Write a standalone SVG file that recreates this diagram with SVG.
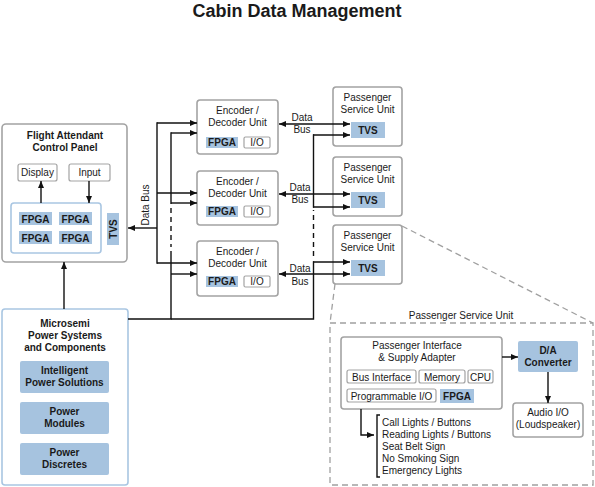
<svg xmlns="http://www.w3.org/2000/svg" width="595" height="487" viewBox="0 0 595 487">
<style>
text{font-family:"Liberation Sans",Arial,sans-serif;font-size:10px;fill:#1a1a1a}
.b{font-weight:bold}
.t{font-size:18px;font-weight:bold}
.m{text-anchor:middle}
.box{fill:#fff;stroke:#a3a3a3;stroke-width:1.6}
.bbox{fill:#fff;stroke:#a9c6e2;stroke-width:1.6}
.sm{fill:#fff;stroke:#a3a3a3;stroke-width:1.2}
.blue{fill:#a6c3df}
.ln{fill:none;stroke:#111;stroke-width:1.4}
.dl{fill:none;stroke:#111;stroke-width:1.4;stroke-dasharray:5,4}
.gd{fill:none;stroke:#a0a0a0;stroke-width:1.3;stroke-dasharray:6,4}
</style>
<defs>
<marker id="ah" viewBox="0 0 7 6" refX="7" refY="3" markerWidth="7" markerHeight="6" markerUnits="userSpaceOnUse" orient="auto-start-reverse">
<path d="M0,0 L7,3 L0,6 z" fill="#111"/>
</marker>
</defs>

<text class="t m" x="297" y="17">Cabin Data Management</text>

<g id="fac">
<rect class="box" x="2" y="124" width="125" height="138" rx="4"/>
<text class="b m" x="65" y="139">Flight Attendant</text>
<text class="b m" x="65" y="151">Control Panel</text>
<rect class="sm" x="18" y="164" width="39" height="17" rx="2"/>
<text class="m" x="37.5" y="176">Display</text>
<rect class="sm" x="69" y="164" width="41" height="17" rx="2"/>
<text class="m" x="89.5" y="176">Input</text>
<rect class="bbox" x="11" y="203" width="90" height="50" rx="3" stroke-width="1.3"/>
<rect class="blue" x="19" y="212" width="33" height="13"/>
<text class="b m" x="35.5" y="222.5">FPGA</text>
<rect class="blue" x="59" y="212" width="33" height="13"/>
<text class="b m" x="75.5" y="222.5">FPGA</text>
<rect class="blue" x="19" y="231" width="33" height="13"/>
<text class="b m" x="35.5" y="241.5">FPGA</text>
<rect class="blue" x="59" y="231" width="33" height="13"/>
<text class="b m" x="75.5" y="241.5">FPGA</text>
<rect class="blue" x="107" y="213" width="12" height="32"/>
<text class="b m" transform="translate(116.8,229) rotate(-90)">TVS</text>
</g>

<g id="enc1" transform="translate(197,100)">
<rect class="box" x="0" y="0" width="81" height="54" rx="3"/>
<text class="m" x="40.5" y="14">Encoder /</text>
<text class="m" x="40.5" y="26">Decoder Unit</text>
<rect class="blue" x="9" y="37" width="32" height="11"/>
<text class="b m" x="25" y="46">FPGA</text>
<rect class="sm" x="47" y="37" width="26" height="11" rx="1.5"/>
<text class="m" x="60" y="46">I/O</text>
</g>
<g id="enc2" transform="translate(197,171)">
<rect class="box" x="0" y="0" width="81" height="54" rx="3"/>
<text class="m" x="40.5" y="14">Encoder /</text>
<text class="m" x="40.5" y="26">Decoder Unit</text>
<rect class="blue" x="9" y="35" width="32" height="11"/>
<text class="b m" x="25" y="44">FPGA</text>
<rect class="sm" x="47" y="35" width="26" height="11" rx="1.5"/>
<text class="m" x="60" y="44">I/O</text>
</g>
<g id="enc3" transform="translate(197,241)">
<rect class="box" x="0" y="0" width="81" height="55" rx="3"/>
<text class="m" x="40.5" y="14">Encoder /</text>
<text class="m" x="40.5" y="26">Decoder Unit</text>
<rect class="blue" x="9" y="35" width="32" height="11"/>
<text class="b m" x="25" y="44">FPGA</text>
<rect class="sm" x="47" y="35" width="26" height="11" rx="1.5"/>
<text class="m" x="60" y="44">I/O</text>
</g>

<g id="psu1" transform="translate(333,87)">
<rect class="box" x="0" y="0" width="69" height="59" rx="3"/>
<text class="m" x="34.5" y="14">Passenger</text>
<text class="m" x="34.5" y="26">Service Unit</text>
<rect class="blue" x="18" y="35" width="34" height="16"/>
<text class="b m" x="35" y="47">TVS</text>
</g>
<g id="psu2" transform="translate(333,157)">
<rect class="box" x="0" y="0" width="69" height="59" rx="3"/>
<text class="m" x="34.5" y="14">Passenger</text>
<text class="m" x="34.5" y="26">Service Unit</text>
<rect class="blue" x="18" y="35" width="34" height="16"/>
<text class="b m" x="35" y="47">TVS</text>
</g>
<g id="psu3" transform="translate(333,225)">
<rect class="box" x="0" y="0" width="69" height="59" rx="3"/>
<text class="m" x="34.5" y="14">Passenger</text>
<text class="m" x="34.5" y="26">Service Unit</text>
<rect class="blue" x="18" y="35" width="34" height="16"/>
<text class="b m" x="35" y="47">TVS</text>
</g>

<g id="power">
<rect class="bbox" x="2" y="309" width="126" height="176" rx="3"/>
<text class="b m" x="65" y="327">Microsemi</text>
<text class="b m" x="65" y="339">Power Systems</text>
<text class="b m" x="65" y="351">and Components</text>
<rect class="blue" x="20" y="361" width="89" height="32" rx="2"/>
<text class="b m" x="64.5" y="374">Intelligent</text>
<text class="b m" x="64.5" y="386">Power Solutions</text>
<rect class="blue" x="20" y="402" width="89" height="32" rx="2"/>
<text class="b m" x="64.5" y="415">Power</text>
<text class="b m" x="64.5" y="427">Modules</text>
<rect class="blue" x="20" y="443" width="89" height="32" rx="2"/>
<text class="b m" x="64.5" y="456">Power</text>
<text class="b m" x="64.5" y="468">Discretes</text>
</g>

<g id="psu-detail">
<path class="gd" d="M402,226 L593,323 M335,284 L330,323"/>
<rect class="gd" x="330" y="323" width="263" height="162"/>
<text class="m" x="461" y="319">Passenger Service Unit</text>
</g>

<g id="adapter">
<rect class="box" x="341" y="337" width="161" height="72" rx="3" stroke-width="1.3"/>
<text class="m" x="417" y="349">Passenger Interface</text>
<text class="m" x="417" y="361">&amp; Supply Adapter</text>
<rect class="sm" x="347" y="370" width="69" height="13" rx="2"/>
<text class="m" x="381.5" y="380.5">Bus Interface</text>
<rect class="sm" x="419" y="370" width="46" height="13" rx="2"/>
<text class="m" x="442" y="380.5">Memory</text>
<rect class="sm" x="468" y="370" width="25" height="13" rx="2"/>
<text class="m" x="480.5" y="380.5">CPU</text>
<rect class="sm" x="347" y="389" width="89" height="13" rx="2"/>
<text class="m" x="391.5" y="399.5">Programmable I/O</text>
<rect class="blue" x="440" y="389" width="34" height="14"/>
<text class="b m" x="457" y="400">FPGA</text>
</g>

<g id="dac">
<rect class="blue" x="518" y="341" width="60" height="31" rx="2"/>
<text class="b m" x="548" y="354">D/A</text>
<text class="b m" x="548" y="366">Converter</text>
</g>

<g id="audio">
<rect class="box" x="513" y="403" width="70" height="34" rx="3" stroke-width="1.3"/>
<text class="m" x="548" y="416">Audio I/O</text>
<text class="m" x="548" y="428">(Loudspeaker)</text>
</g>

<g id="outputs">
<path class="ln" d="M380,415 H377 V477 H380"/>
<text x="382" y="426">Call Lights / Buttons</text>
<text x="382" y="438">Reading Lights / Buttons</text>
<text x="382" y="450">Seat Belt Sign</text>
<text x="382" y="462">No Smoking Sign</text>
<text x="382" y="474">Emergency Lights</text>
</g>

<g id="connectors">
<line class="ln" x1="41" y1="203" x2="41" y2="181" marker-end="url(#ah)"/>
<line class="ln" x1="89" y1="181" x2="89" y2="203" marker-end="url(#ah)"/>
<line class="ln" x1="64" y1="309" x2="64" y2="262" marker-end="url(#ah)"/>
<line class="ln" x1="157" y1="228" x2="128" y2="228" marker-end="url(#ah)"/>
<text class="m" transform="translate(149,205) rotate(-90)">Data Bus</text>
<line class="ln" x1="157" y1="122.3" x2="157" y2="263.7"/>
<line class="ln" x1="157" y1="123" x2="197" y2="123" marker-end="url(#ah)"/>
<line class="ln" x1="157" y1="193" x2="197" y2="193" marker-end="url(#ah)"/>
<line class="ln" x1="157" y1="263" x2="197" y2="263" marker-end="url(#ah)"/>
<path class="ln" d="M171,132.3 V204"/>
<path class="dl" d="M171,208 V247"/>
<path class="ln" d="M128,319 H171 V251"/>
<line class="ln" x1="171" y1="133" x2="197" y2="133" marker-end="url(#ah)"/>
<line class="ln" x1="171" y1="203" x2="197" y2="203" marker-end="url(#ah)"/>
<line class="ln" x1="171" y1="274" x2="197" y2="274" marker-end="url(#ah)"/>
<path class="ln" d="M171,319 H313.5 V261.3"/>
<path class="dl" d="M313.5,256 V210"/>
<path class="ln" d="M313.5,207.7 V134.3"/>
<line class="ln" x1="313" y1="135" x2="350" y2="135" marker-end="url(#ah)"/>
<line class="ln" x1="313" y1="207" x2="350" y2="207" marker-end="url(#ah)"/>
<line class="ln" x1="313" y1="262" x2="350" y2="262" marker-end="url(#ah)"/>
<line class="ln" x1="279" y1="124" x2="350" y2="124" marker-start="url(#ah)" marker-end="url(#ah)"/>
<line class="ln" x1="279" y1="194" x2="350" y2="194" marker-start="url(#ah)" marker-end="url(#ah)"/>
<line class="ln" x1="279" y1="274" x2="350" y2="274" marker-start="url(#ah)" marker-end="url(#ah)"/>
<text class="m" x="302" y="121">Data</text>
<text class="m" x="302" y="133">Bus</text>
<text class="m" x="300" y="191">Data</text>
<text class="m" x="300" y="203">Bus</text>
<text class="m" x="300" y="272">Data</text>
<text class="m" x="300" y="285">Bus</text>
<line class="ln" x1="502" y1="357" x2="518" y2="357" marker-end="url(#ah)"/>
<line class="ln" x1="548" y1="372" x2="548" y2="403" marker-end="url(#ah)"/>
<path class="ln" d="M361,409 V435 H374" marker-end="url(#ah)"/>
</g>
</svg>
